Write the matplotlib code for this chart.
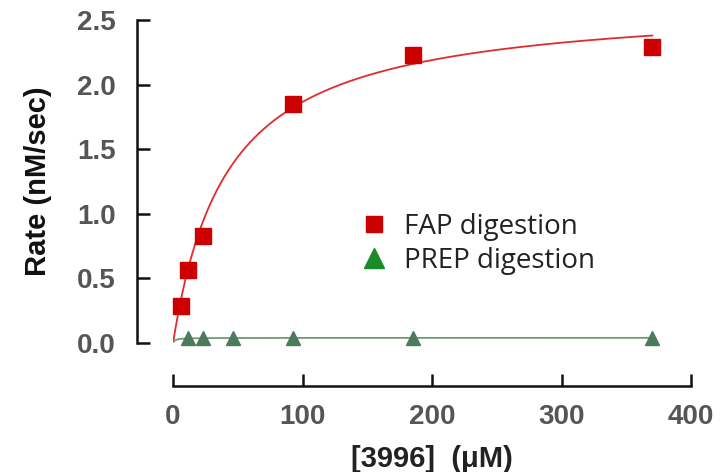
import numpy as np
import matplotlib
matplotlib.use("Agg")
import matplotlib.pyplot as plt
from matplotlib.lines import Line2D

# data
fap_conc = [5.78, 11.56, 23.1, 92.5, 185, 370]
fap_rate = [0.29, 0.565, 0.83, 1.85, 2.23, 2.29]
prep_conc = [11.56, 23.1, 46.25, 92.5, 185, 370]
prep_rate = [0.04, 0.04, 0.04, 0.04, 0.04, 0.04]

# Michaelis-Menten fit parameters (estimated from the drawn curves)
fap_vmax, fap_km = 2.65, 42.0
prep_vmax, prep_km = 0.04, 1.5

xticks = [0, 100, 200, 300, 400]
yticks = [0.0, 0.5, 1.0, 1.5, 2.0, 2.5]

fig = plt.figure(figsize=(7.24, 4.72), dpi=100)
ax = fig.add_axes([0.239, 0.2733, 0.7155, 0.6843])

xs = np.linspace(0, 370, 600)
ax.plot(xs, fap_vmax * xs / (fap_km + xs), color="#e02c2c", lw=1.3, zorder=2)
ax.plot(xs, prep_vmax * xs / (prep_km + xs), color="#6f9a78", lw=1.3, zorder=2)
ax.plot(fap_conc, fap_rate, "s", color="#cc0000", ms=11, ls="none", clip_on=False, zorder=3)
ax.plot(prep_conc, prep_rate, "^", color="#4e7a5c", ms=10, ls="none", clip_on=False, zorder=3)

ax.set_xlim(0, 400)
ax.set_ylim(0, 2.5)
ax.set_xticks(xticks)
ax.set_yticks(yticks)
ax.set_yticklabels([f"{v:.1f}" for v in yticks])

for s in ["top", "right"]:
    ax.spines[s].set_visible(False)
ax.spines["left"].set_position(("outward", 26))
ax.spines["bottom"].set_position(("outward", 31))
for s in ["left", "bottom"]:
    ax.spines[s].set_linewidth(1.8)
    ax.spines[s].set_color("#111111")

ax.tick_params(direction="in", length=9, width=1.8, color="#111111")
ax.tick_params(axis="y", pad=15)
ax.tick_params(axis="x", pad=13)
for lab in ax.get_xticklabels() + ax.get_yticklabels():
    lab.set_fontfamily("Liberation Sans")
    lab.set_fontweight("bold")
    lab.set_fontsize(20)
    lab.set_color("#555555")

ax.set_ylabel("Rate (nM/sec)", fontfamily="Liberation Sans", fontweight="bold",
              fontsize=21, color="#111111", labelpad=18)
ax.set_xlabel("[3996]  (μM)", fontfamily="Liberation Sans", fontweight="bold",
              fontsize=21, color="#222222", labelpad=11)

handles = [
    Line2D([], [], marker="s", color="#cc0000", ls="none", ms=11),
    Line2D([], [], marker="^", color="#1a8a2a", ls="none", ms=14),
]
leg = ax.legend(handles, ["FAP digestion", "PREP digestion"], loc="upper left",
                bbox_to_anchor=(0.307, 0.48), frameon=False, handletextpad=0.5,
                handlelength=1.2, labelspacing=0.2,
                prop={"family": "Open Sans", "size": 20})
for t in leg.get_texts():
    t.set_color("#222222")

fig.savefig("out.png", dpi=100)
